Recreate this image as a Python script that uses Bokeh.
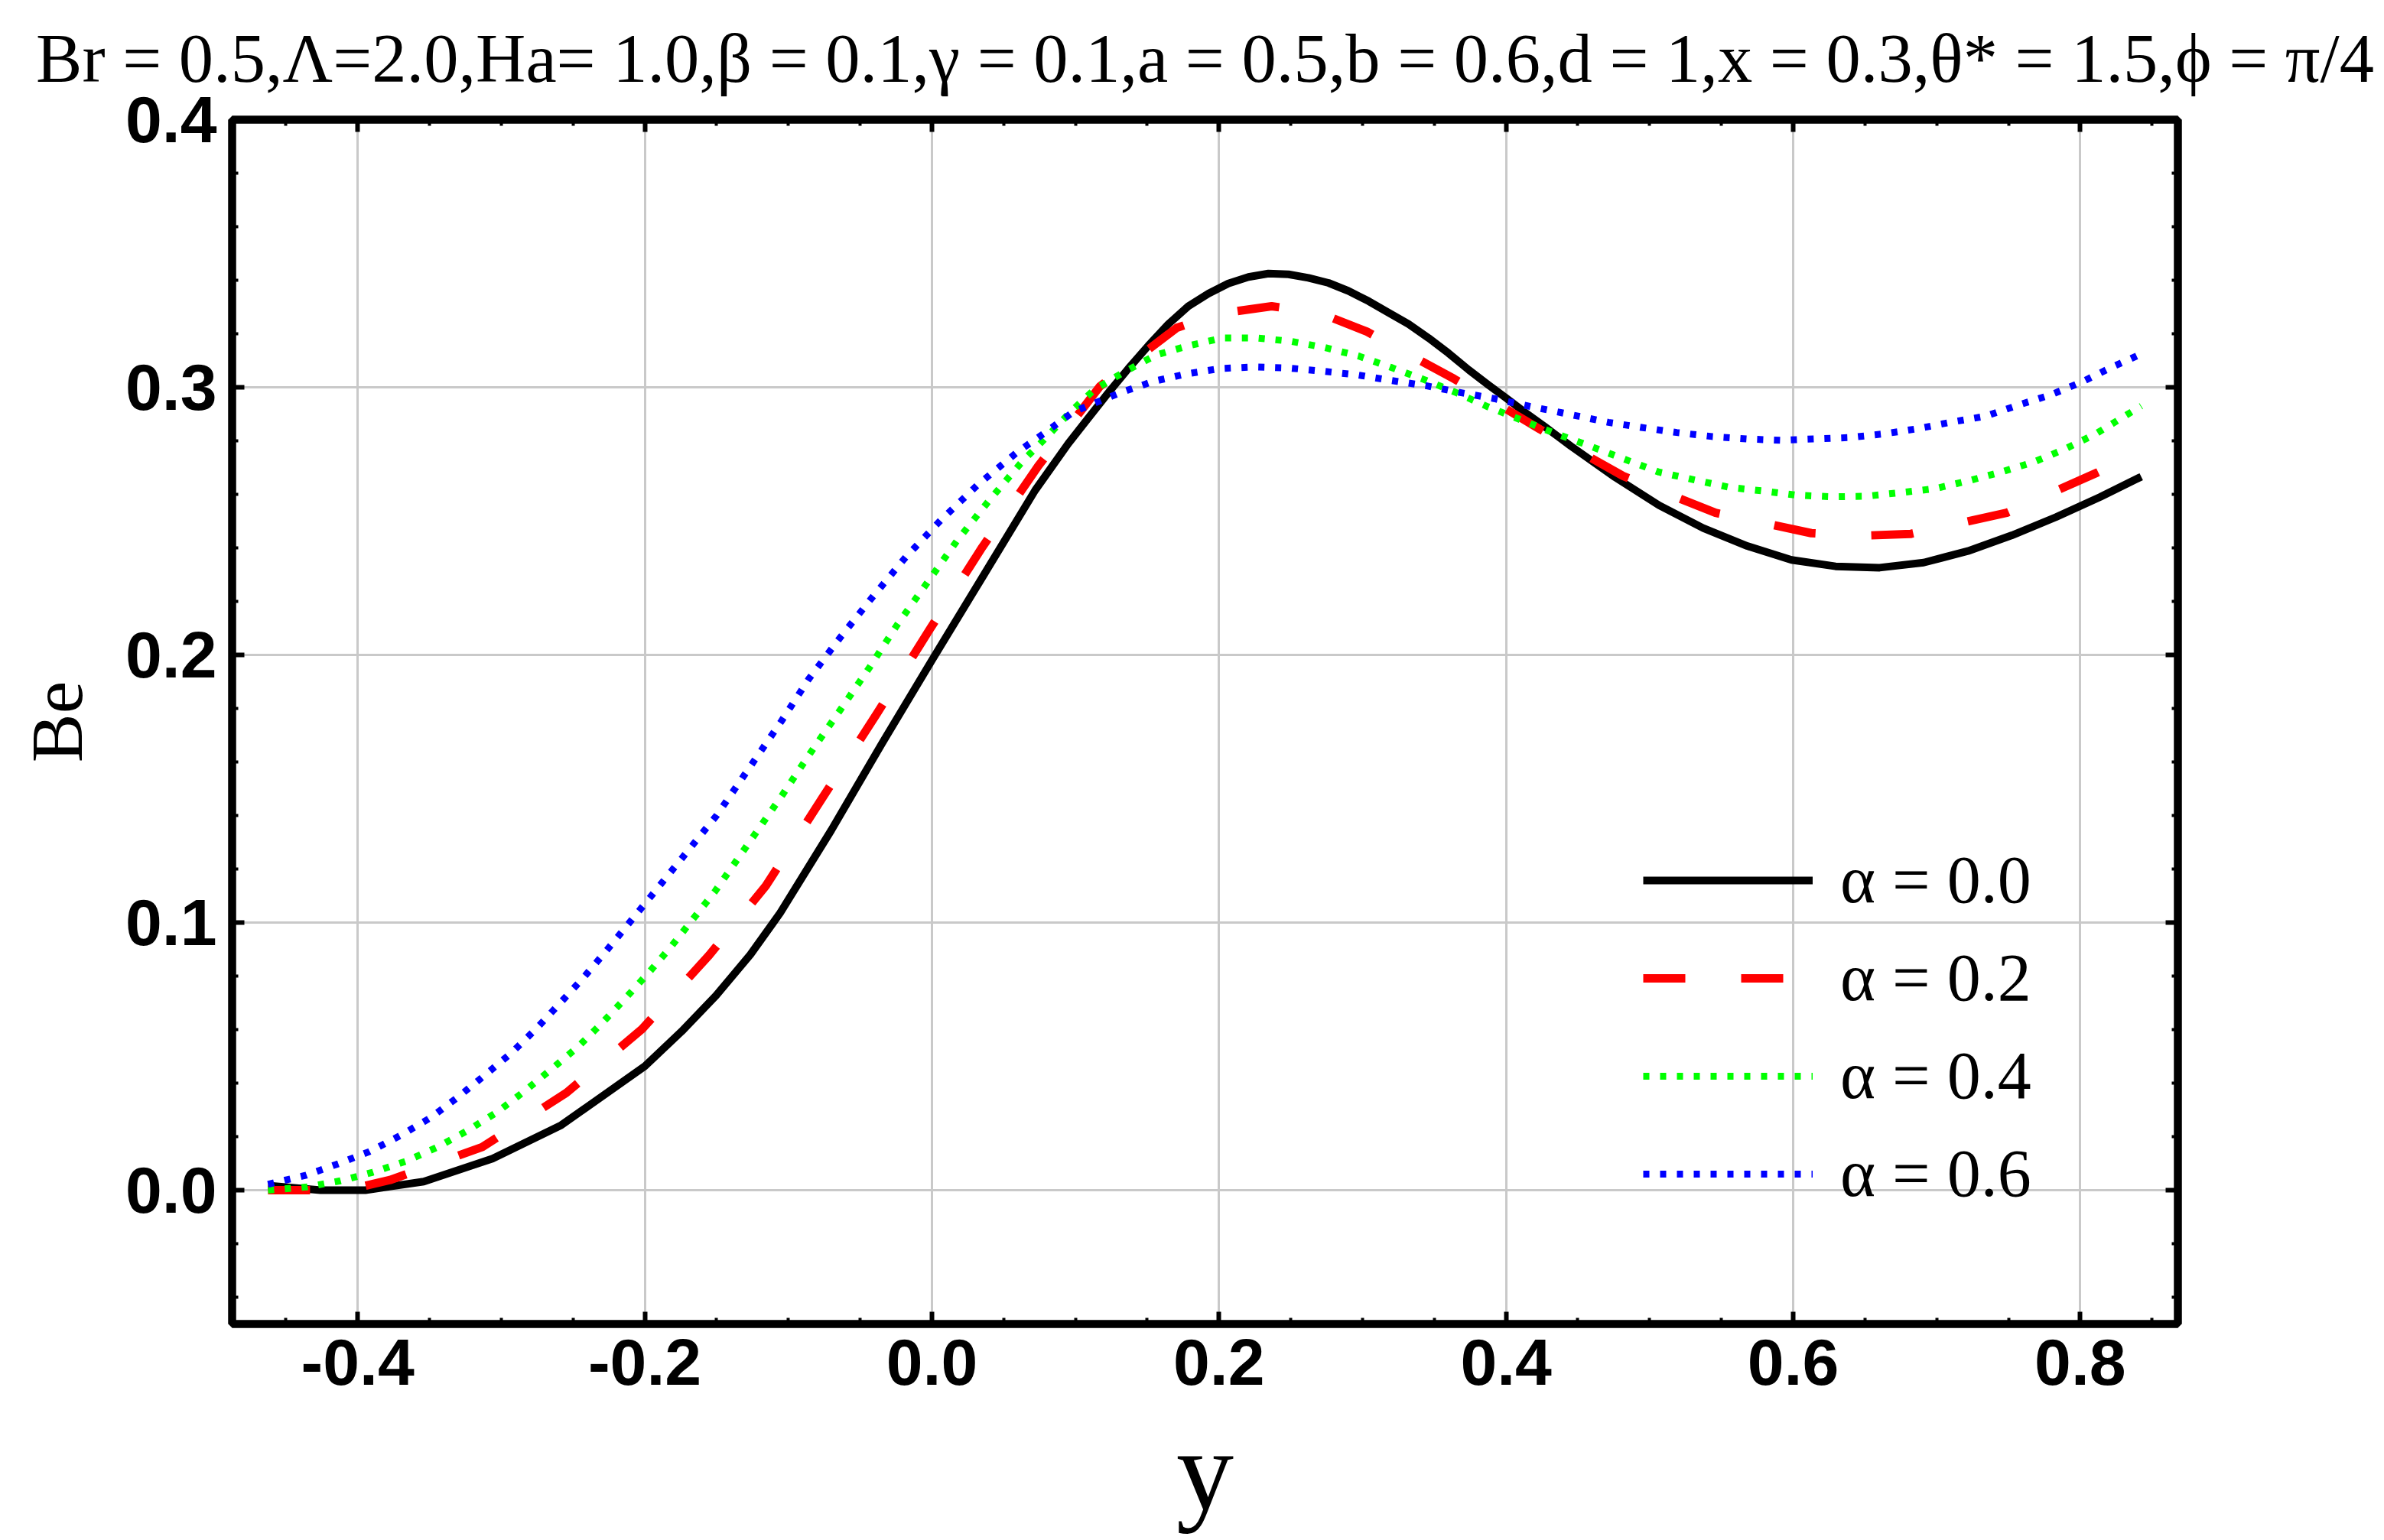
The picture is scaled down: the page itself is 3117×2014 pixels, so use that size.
from bokeh.plotting import figure
from bokeh.models import (Range1d, LinearAxis, FixedTicker, NumeralTickFormatter, Legend,
                          LegendItem, CustomLabelingPolicy)
from bokeh.embed import file_html
from bokeh.resources import INLINE

# ---- data ----
y_a00 = [-0.4625, -0.4259, -0.3947, -0.354, -0.3061, -0.2582, -0.2, -0.1744, -0.1504, -0.1265,
         -0.1057, -0.0701, -0.0346, 0.0, 0.0364, 0.0719, 0.0949, 0.1088, 0.1228, 0.1367, 0.1507,
         0.1647, 0.1786, 0.1926, 0.2065, 0.2205, 0.2344, 0.2484, 0.2623, 0.2763, 0.2902, 0.3042,
         0.3181, 0.3321, 0.346, 0.36, 0.374, 0.3879, 0.4, 0.4135, 0.4274, 0.4452, 0.4759, 0.5066,
         0.5373, 0.568, 0.5988, 0.6295, 0.6602, 0.6909, 0.7217, 0.7524, 0.7831, 0.8138, 0.8425]
be_a00 = [0.0017, 0.0, 0.0, 0.0032, 0.0118, 0.0243, 0.0463, 0.0593, 0.0727, 0.088,
          0.1036, 0.1345, 0.1671, 0.198, 0.2301, 0.2615, 0.2789, 0.2884, 0.2979, 0.3069, 0.3155,
          0.3236, 0.3303, 0.335, 0.3388, 0.3412, 0.3425, 0.3422, 0.3409, 0.339, 0.336, 0.3322,
          0.3279, 0.3236, 0.3184, 0.3127, 0.3065, 0.3008, 0.296, 0.2905, 0.2851, 0.278, 0.2664,
          0.2559, 0.2474, 0.2407, 0.2355, 0.2331, 0.2326, 0.2345, 0.2388, 0.2447, 0.2515, 0.259,
          0.2666]

y_a02 = [-0.4625, -0.432, -0.4, -0.3775, -0.3133, -0.2546, -0.2019, -0.1552, -0.1157, -0.0758,
         -0.0385, -0.0018, 0.035, 0.0741, 0.117, 0.1705, 0.2, 0.2367, 0.27, 0.303, 0.364, 0.395,
         0.4237, 0.4814, 0.5459, 0.6126, 0.645, 0.6817, 0.7487, 0.8117, 0.8425]
be_a02 = [0.0, 0.0, 0.001, 0.0038, 0.0161, 0.0364, 0.0602, 0.0878, 0.1137, 0.147,
          0.1779, 0.2093, 0.2402, 0.2706, 0.3003, 0.3222, 0.3275, 0.3303, 0.3278, 0.3208, 0.3031,
          0.2935, 0.2843, 0.2669, 0.2531, 0.2455, 0.2445, 0.2452, 0.2531, 0.2681, 0.276]

y_a04 = [-0.4625, -0.4354, -0.412, -0.3895, -0.3665, -0.3444, -0.3234, -0.3025, -0.2833, -0.2649,
         -0.2467, -0.2295, -0.2127, -0.1964, -0.1811, -0.166, -0.1509, -0.1039, -0.0844, -0.0639,
         -0.0435, -0.024, -0.003, 0.0178, 0.04, 0.063, 0.0799, 0.0972, 0.1135, 0.1333, 0.1558,
         0.1786, 0.2023, 0.2263, 0.2502, 0.274, 0.2972, 0.32, 0.3428, 0.3658, 0.3874, 0.41,
         0.4321, 0.4542, 0.4851, 0.5066, 0.5312, 0.5558, 0.5803, 0.6018, 0.6264, 0.651, 0.6756,
         0.6986, 0.7217, 0.7447, 0.7677, 0.7892, 0.8108, 0.8323, 0.8425]
be_a04 = [0.0, 0.0012, 0.0035, 0.0067, 0.0108, 0.0161, 0.0223, 0.0293, 0.0372, 0.0453,
          0.0535, 0.0626, 0.0722, 0.0818, 0.0914, 0.1016, 0.1118, 0.1479, 0.1636, 0.1794,
          0.1953, 0.2114, 0.2272, 0.2429, 0.2578, 0.2723, 0.2814, 0.2912, 0.2993, 0.3055, 0.312,
          0.3155, 0.3184, 0.3184, 0.3172, 0.3148, 0.3117, 0.3074, 0.3029, 0.2979, 0.2927, 0.2879,
          0.2832, 0.2789, 0.2726, 0.2683, 0.2654, 0.2626, 0.2612, 0.2597, 0.2591, 0.2593, 0.2607,
          0.2621, 0.265, 0.2683, 0.2721, 0.2769, 0.2826, 0.2897, 0.293]

y_a06 = [-0.4625, -0.4359, -0.4134, -0.3919, -0.3703, -0.3492, -0.3301, -0.3114, -0.2929, -0.2759,
         -0.2592, -0.2431, -0.2275, -0.2122, -0.1971, -0.15, -0.1048, -0.0858, -0.0639, -0.0414,
         -0.0183, 0.0059, 0.032, 0.0595, 0.079, 0.0984, 0.1309, 0.1542, 0.1774, 0.2007, 0.2251,
         0.2488, 0.2728, 0.2967, 0.3205, 0.3442, 0.3674, 0.3914, 0.4153, 0.4386, 0.4713, 0.4943,
         0.5189, 0.5435, 0.568, 0.5911, 0.6141, 0.6387, 0.6633, 0.6863, 0.7094, 0.7339, 0.7555,
         0.78, 0.8015, 0.823, 0.8353, 0.8425]
be_a06 = [0.0022, 0.0056, 0.0099, 0.0144, 0.0204, 0.0271, 0.0348, 0.043, 0.0513, 0.0602,
          0.0698, 0.0792, 0.089, 0.099, 0.1089, 0.140, 0.1753, 0.191, 0.2065, 0.2216,
          0.2365, 0.2502, 0.2636, 0.2758, 0.2831, 0.2908, 0.2979, 0.3022, 0.305, 0.307, 0.3076,
          0.3072, 0.306, 0.3046, 0.3025, 0.3006, 0.2981, 0.2958, 0.293, 0.2905, 0.2869, 0.285,
          0.2831, 0.2816, 0.2807, 0.2802, 0.2807, 0.2812, 0.2826, 0.2845, 0.2869, 0.2892, 0.2931,
          0.2973, 0.3021, 0.3078, 0.3107, 0.3125]

series_labels = ["α = 0.0", "α = 0.2", "α = 0.4", "α = 0.6"]
series_x = [y_a00, y_a02, y_a04, y_a06]
series_values = [be_a00, be_a02, be_a04, be_a06]

x_major = [-0.4, -0.2, 0.0, 0.2, 0.4, 0.6, 0.8]
x_minor = [-0.45, -0.35, -0.3, -0.25, -0.15, -0.1, -0.05, 0.05, 0.1, 0.15, 0.25, 0.3, 0.35,
           0.45, 0.5, 0.55, 0.65, 0.7, 0.75, 0.85]
y_major = [0.0, 0.1, 0.2, 0.3, 0.4]
y_minor = [-0.04, -0.02, 0.02, 0.04, 0.06, 0.08, 0.12, 0.14, 0.16, 0.18, 0.22, 0.24, 0.26,
           0.28, 0.32, 0.34, 0.36, 0.38]

title_text = "Br = 0.5,Λ=2.0,Ha= 1.0,β = 0.1,γ = 0.1,a = 0.5,b = 0.6,d = 1,x = 0.3,θ* = 1.5,ϕ = π/4"

# ---- styles ----
styles = [
    dict(line_color="#000000", line_width=10, line_dash="solid"),
    dict(line_color="#ff0000", line_width=11, line_dash="55 73"),
    dict(line_color="#00ff00", line_width=9, line_dash="8 14"),
    dict(line_color="#0000ff", line_width=9, line_dash="8 14"),
]

p = figure(width=3115, height=2012,
           x_range=Range1d(-0.4875, 0.868), y_range=Range1d(-0.05, 0.4),
           output_backend="svg", toolbar_location=None,
           min_border_left=303, min_border_right=268,
           min_border_top=156, min_border_bottom=281,
           title=title_text)

p.background_fill_color = "white"
p.border_fill_color = "white"
p.outline_line_color = "black"
p.outline_line_width = 10

p.title.text_font = "Liberation Serif"
p.title.text_font_size = "90.5px"
p.title.text_font_style = "normal"
p.title.text_color = "black"
p.title.align = "center"
p.title.standoff = 38
p.title.offset = -25

xt = FixedTicker(ticks=x_major, minor_ticks=x_minor)
yt = FixedTicker(ticks=y_major, minor_ticks=y_minor)

def style_axis(ax, ticker, labels=True):
    ax.ticker = ticker
    ax.axis_line_width = 10
    ax.axis_line_color = "black"
    ax.major_tick_in = 16
    ax.major_tick_out = 0
    ax.minor_tick_in = 8
    ax.minor_tick_out = 0
    ax.major_tick_line_width = 6
    ax.minor_tick_line_width = 4
    ax.major_tick_line_color = "black"
    ax.minor_tick_line_color = "black"
    ax.formatter = NumeralTickFormatter(format="0.0")
    if labels:
        ax.major_label_text_font = "Liberation Sans"
        ax.major_label_text_font_style = "bold"
        ax.major_label_text_font_size = "86px"
        ax.major_label_text_color = "black"
        ax.major_label_standoff = 20
    else:
        ax.major_label_policy = CustomLabelingPolicy(code="return new Set()")
        ax.major_label_standoff = 0

style_axis(p.xaxis[0], xt)
style_axis(p.yaxis[0], yt)

p.xaxis[0].axis_label = "y"
p.xaxis[0].axis_label_text_font = "Liberation Serif"
p.xaxis[0].axis_label_text_font_style = "normal"
p.xaxis[0].axis_label_text_color = "black"
p.xaxis[0].axis_label_text_font_size = "150px"
p.xaxis[0].axis_label_standoff = 26

p.yaxis[0].axis_label = "Be"
p.yaxis[0].axis_label_text_font = "Liberation Serif"
p.yaxis[0].axis_label_text_font_style = "normal"
p.yaxis[0].axis_label_text_color = "black"
p.yaxis[0].axis_label_text_font_size = "96px"
p.yaxis[0].axis_label_standoff = 33

top_ax = LinearAxis()
style_axis(top_ax, xt, labels=False)
right_ax = LinearAxis()
style_axis(right_ax, yt, labels=False)
p.add_layout(top_ax, "above")
p.add_layout(right_ax, "right")

p.xgrid.ticker = xt
p.ygrid.ticker = yt
p.xgrid.grid_line_color = "#c9c9c9"
p.ygrid.grid_line_color = "#c9c9c9"
p.xgrid.grid_line_width = 3
p.ygrid.grid_line_width = 3

items = []
for lab, xs, vals, st in zip(series_labels, series_x, series_values, styles):
    r = p.line(xs, vals, line_cap="butt", line_join="round", **st)
    items.append(LegendItem(label=lab, renderers=[r]))

legend = Legend(items=items, location=(1845, 146))
legend.label_text_font = "Liberation Serif"
legend.label_text_font_size = "88px"
legend.label_text_color = "black"
legend.label_standoff = 36
legend.glyph_width = 222
legend.glyph_height = 100
legend.label_height = 100
legend.spacing = 27
legend.padding = 0
legend.margin = 0
legend.border_line_alpha = 0
legend.background_fill_alpha = 0
p.add_layout(legend)

open("out.html", "w").write(file_html(p, INLINE))
